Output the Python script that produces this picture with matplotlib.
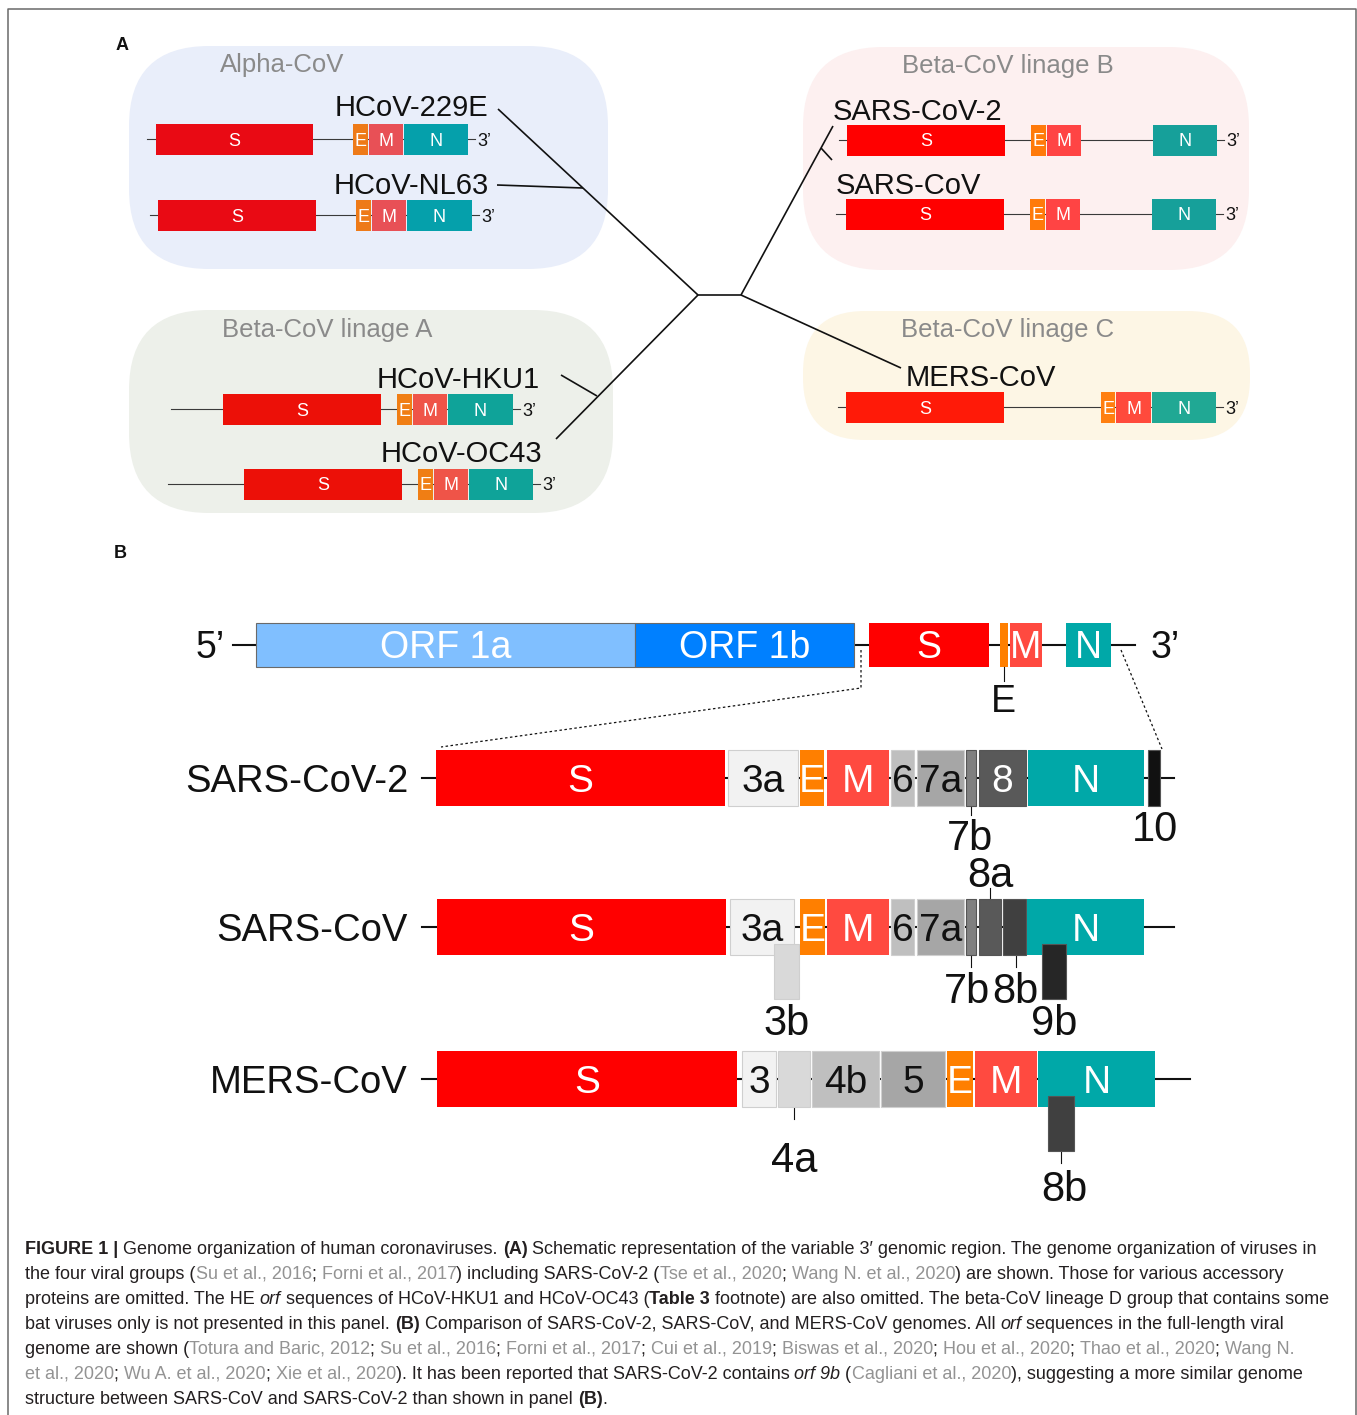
import matplotlib
matplotlib.use('Agg')
import matplotlib.pyplot as plt
from matplotlib.patches import Rectangle, FancyBboxPatch

SANS = ['Liberation Sans', 'DejaVu Sans']
NARROW = ['Liberation Sans Narrow', 'Liberation Sans', 'DejaVu Sans']
plt.rcParams['font.family'] = SANS

# ---------------- Panel A: variable 3' region of the seven human CoVs ----------------
a_viruses = ['HCoV-229E', 'HCoV-NL63', 'HCoV-HKU1', 'HCoV-OC43',
             'SARS-CoV-2', 'SARS-CoV', 'MERS-CoV']
a_genes = ['S', 'E', 'M', 'N']
a_start = [[156, 353, 369, 404],
           [158, 356, 372, 407],
           [223, 397, 413, 448],
           [244, 418, 434, 469],
           [847, 1031, 1047, 1153],
           [846, 1030, 1046, 1152],
           [846, 1101, 1116, 1152]]
a_end = [[313, 368, 403, 468],
         [316, 371, 406, 472],
         [381, 412, 447, 513],
         [402, 433, 468, 533],
         [1005, 1046, 1081, 1217],
         [1004, 1045, 1080, 1216],
         [1004, 1115, 1151, 1216]]
a_leader = [147, 150, 171, 168, 839, 836, 838]   # 5' end of drawn line
a_groups = ['Alpha-CoV', 'Beta-CoV linage A', 'Beta-CoV linage B', 'Beta-CoV linage C']

# ---------------- Panel B: full genome and accessory orfs ----------------
top_genes = ['ORF 1a', 'ORF 1b', 'S', 'E', 'M', 'N']
top_start = [256, 635, 869, 1000, 1010, 1066]
top_end = [635, 854, 989, 1008, 1042, 1111]

b_viruses = ['SARS-CoV-2', 'SARS-CoV', 'MERS-CoV']
sars2_genes = ['S', '3a', 'E', 'M', '6', '7a', '7b', '8', 'N', '10']
sars2_start = [436, 728, 800, 827, 891, 917, 966, 979, 1028, 1148]
sars2_end = [725, 798, 824, 889, 914, 964, 976, 1026, 1144, 1160]
sars_genes = ['S', '3a', '3b', 'E', 'M', '6', '7a', '7b', '8a', '8b', 'N', '9b']
sars_start = [437, 730, 774, 800, 827, 891, 917, 966, 979, 1003, 1027, 1042]
sars_end = [726, 794, 799, 825, 889, 914, 964, 976, 1001, 1026, 1144, 1066]
mers_genes = ['S', '3', '4a', '4b', '5', 'E', 'M', 'N', '8b']
mers_start = [437, 742, 778, 812, 881, 947, 975, 1038, 1048]
mers_end = [737, 776, 810, 879, 945, 973, 1037, 1155, 1074]

# caption: (text, style) n=normal g=reference b=bold i=italic
caption = [
    [('FIGURE 1 | ', 'b'), ('Genome organization of human coronaviruses. ', 'n'), ('(A)', 'b'),
     (' Schematic representation of the variable 3\u2032 genomic region. The genome organization of viruses in', 'n')],
    [('the four viral groups (', 'n'), ('Su et al., 2016', 'g'), ('; ', 'n'), ('Forni et al., 2017', 'g'),
     (') including SARS-CoV-2 (', 'n'), ('Tse et al., 2020', 'g'), ('; ', 'n'), ('Wang N. et al., 2020', 'g'),
     (') are shown. Those for various accessory', 'n')],
    [('proteins are omitted. The HE ', 'n'), ('orf', 'i'), (' sequences of HCoV-HKU1 and HCoV-OC43 (', 'n'),
     ('Table 3', 'b'), (' footnote) are also omitted. The beta-CoV lineage D group that contains some', 'n')],
    [('bat viruses only is not presented in this panel. ', 'n'), ('(B)', 'b'),
     (' Comparison of SARS-CoV-2, SARS-CoV, and MERS-CoV genomes. All ', 'n'), ('orf', 'i'),
     (' sequences in the full-length viral', 'n')],
    [('genome are shown (', 'n'), ('Totura and Baric, 2012', 'g'), ('; ', 'n'), ('Su et al., 2016', 'g'),
     ('; ', 'n'), ('Forni et al., 2017', 'g'), ('; ', 'n'), ('Cui et al., 2019', 'g'), ('; ', 'n'),
     ('Biswas et al., 2020', 'g'), ('; ', 'n'), ('Hou et al., 2020', 'g'), ('; ', 'n'),
     ('Thao et al., 2020', 'g'), ('; ', 'n'), ('Wang N.', 'g')],
    [('et al., 2020', 'g'), ('; ', 'n'), ('Wu A. et al., 2020', 'g'), ('; ', 'n'), ('Xie et al., 2020', 'g'),
     ('). It has been reported that SARS-CoV-2 contains ', 'n'), ('orf 9b', 'i'), (' (', 'n'),
     ('Cagliani et al., 2020', 'g'), ('), suggesting a more similar genome', 'n')],
    [('structure between SARS-CoV and SARS-CoV-2 than shown in panel ', 'n'), ('(B)', 'b'), ('.', 'n')],
]

# ---------------- layout / styling ----------------
W, H = 1357, 1415
fig = plt.figure(figsize=(W / 100, H / 100), dpi=100)
ax = fig.add_axes([0, 0, 1, 1])
ax.set_xlim(0, W)
ax.set_ylim(H, 0)
ax.axis('off')


def ctext(x, y, s, size, ha='center', **kw):
    # put the cap-height centre of the text at y (size in pt, 1 px = 0.72 pt)
    ax.text(x, y + 0.36 * size / 0.72, s, fontsize=size, ha=ha, va='baseline', **kw)


# frame
ax.plot([8, 8, 1356, 1356], [H, 9, 9, H], color='#6a6a6a', lw=1.1, zorder=0)

# panel letters
ctext(122, 44, 'A', 13, fontweight='bold', color='#111')
ctext(120, 551, 'B', 13, fontweight='bold', color='#111')

# group backgrounds
group_box = [(129, 46, 608, 269, '#e9eefa', 80), (129, 310, 613, 513, '#edf0ea', 80),
             (803, 47, 1249, 270, '#fdf0f0', 80), (803, 311, 1250, 440, '#fdf6e5', 62)]
group_title_xy = [(282, 63), (327, 328), (1008, 64), (1008, 328)]
for (x0, y0, x1, y1, c, r), name, (tx, ty) in zip(group_box, a_groups, group_title_xy):
    ax.add_patch(FancyBboxPatch((x0, y0), x1 - x0, y1 - y0,
                                boxstyle='round,pad=0,rounding_size=%d' % r,
                                fc=c, ec='none', zorder=0))
    ctext(tx, ty, name, 18.5, color='#8a8a8a')

# tree
tree = [((498, 109), (698, 295)), ((497, 185), (583, 188)), ((698, 295), (741, 295)),
        ((698, 295), (556, 439)), ((561, 375), (597, 396)), ((741, 295), (833, 126)),
        ((821, 148), (832, 160)), ((741, 295), (901, 368))]
for (x0, y0), (x1, y1) in tree:
    ax.plot([x0, x1], [y0, y1], color='#111', lw=1.2, zorder=1, solid_capstyle='butt')

a_row_y = [139, 215, 409, 484, 140, 214, 407]
a_label = [(488, 106, 'right'), (489, 183, 'right'), (540, 377, 'right'), (542, 452, 'right'),
           (833, 110, 'left'), (836, 183, 'left'), (906, 375, 'left')]
a_cols = [['#e90a14', '#ee7a18', '#e85056', '#05a0ab'],
          ['#e90a14', '#ee7a18', '#e85056', '#05a0ab'],
          ['#ec1008', '#f07e14', '#ef5448', '#0fa399'],
          ['#ec1008', '#f07e14', '#ef5448', '#0fa399'],
          ['#ff0000', '#ff7a0a', '#ff4444', '#16a09a'],
          ['#ff0000', '#ff7a0a', '#ff4444', '#16a09a'],
          ['#ff1a08', '#ff7f10', '#ff4a3c', '#20a894']]
for i, name in enumerate(a_viruses):
    y = a_row_y[i]
    h = 31
    ax.plot([a_leader[i], a_end[i][-1] + 7], [y, y], color='#3a3a3a', lw=0.8, zorder=2)
    for g, s, e, c in zip(a_genes, a_start[i], a_end[i], a_cols[i]):
        ax.add_patch(Rectangle((s, y - h / 2), e - s, h, fc=c, ec='none', zorder=3))
        ctext((s + e) / 2, y, g, 13, color='white', zorder=4)
    ctext(a_end[i][-1] + 9, y, '3\u2019', 13, ha='left', color='#111')
    lx, ly, lha = a_label[i]
    ctext(lx, ly, name, 21, ha=lha, color='#111')

# ---------------- panel B ----------------
fill = {'ORF 1a': '#80bfff', 'ORF 1b': '#0080ff', 'S': '#ff0000', 'E': '#ff7f00', 'M': '#ff4a40',
        'N': '#00a8a8', '3a': '#f2f2f2', '3': '#f2f2f2', '3b': '#d9d9d9', '4a': '#d9d9d9',
        '4b': '#bfbfbf', '6': '#bfbfbf', '5': '#a6a6a6', '7a': '#a6a6a6', '7b': '#808080',
        '8': '#595959', '8a': '#595959', '8b': '#404040', '9b': '#262626', '10': '#111111'}
white_txt = {'ORF 1a', 'ORF 1b', 'S', 'E', 'M', 'N', '8'}

# top genome
ty = 645
ax.plot([233, 1135], [ty, ty], color='#111', lw=1.5, zorder=1)
for g, s, e in zip(top_genes, top_start, top_end):
    ec = '#6a6a6a' if g.startswith('ORF') else 'none'
    ax.add_patch(Rectangle((s, ty - 22), e - s, 44, fc=fill[g], ec=ec, lw=0.8, zorder=2))
    if g != 'E':
        ctext((s + e) / 2, ty, g, 27, color='white', family=NARROW, zorder=3)
ax.plot([1004, 1004], [667, 681], color='#111', lw=0.8)
ctext(1003, 698, 'E', 27, family=NARROW, color='#111')
ctext(210, ty, '5\u2019', 27, color='#111')
ctext(1165, ty, '3\u2019', 27, color='#111')

# zoom-in dashed guides
ax.plot([861, 861, 441], [650, 688, 747], color='#111', lw=0.9, ls=(0, (2, 2)))
ax.plot([1121, 1162], [650, 749], color='#111', lw=0.9, ls=(0, (2, 2)))

b_rows = [(sars2_genes, sars2_start, sars2_end), (sars_genes, sars_start, sars_end),
          (mers_genes, mers_start, mers_end)]
b_row_y = [778, 927, 1079]
b_line_end = [1174, 1174, 1190]
# orfs drawn below the main row (overlapping reading frames)
b_lowered = {(1, '3b'), (1, '9b'), (2, '8b')}
# labels outside the boxes: (x, y, tick from y0 to y1 or None)
b_outside = {(0, '7b'): (970, 835, (806, 815)), (0, '10'): (1155, 826, None),
             (1, '7b'): (967, 988, (955, 967)), (1, '8a'): (990, 872, (899, 888)),
             (1, '8b'): (1015, 988, (955, 967)), (1, '3b'): (787, 1020, None),
             (1, '9b'): (1054, 1020, None),
             (2, '4a'): (794, 1157, (1107, 1119)), (2, '8b'): (1064, 1186, (1151, 1163))}

for r, (name, (genes, starts, ends)) in enumerate(zip(b_viruses, b_rows)):
    y = b_row_y[r]
    ax.plot([422, b_line_end[r]], [y, y], color='#111', lw=1.5, zorder=1)
    ctext(408, y, name, 27.5, ha='right', color='#111')
    for g, s, e in zip(genes, starts, ends):
        if (r, g) in b_lowered:
            y0, h = y + 17, 55
        else:
            y0, h = y - 28, 56
        ec = '#cfcfcf' if g in ('3a', '3', '3b', '4a', '4b', '6', '5', '7a') else '#555555' \
            if g in ('7b', '8', '8a', '8b', '9b', '10') else 'none'
        ax.add_patch(Rectangle((s, y0), e - s, h, fc=fill[g], ec=ec, lw=0.8, zorder=2))
        if (r, g) in b_outside:
            lx, ly, tick = b_outside[(r, g)]
            if tick is not None:
                tx = (s + e) / 2 if g != '8b' or r != 1 else (s + e) / 2 + 1
                ax.plot([tx, tx], tick, color='#111', lw=0.8, zorder=1)
            ctext(lx, ly, g, 30, family=NARROW, color='#111')
        else:
            col = 'white' if g in white_txt else '#111'
            ctext((s + e) / 2, y, g, 28, family=NARROW, color=col, zorder=3)

# ---------------- caption ----------------
cap_style = {'n': dict(color='#231f20'), 'g': dict(color='#939393'),
             'b': dict(color='#231f20', fontweight='bold'),
             'i': dict(color='#231f20', fontstyle='italic')}
renderer = fig.canvas.get_renderer()


def seg_width(s, size, st):
    kw = dict(fontsize=size, family=NARROW, **cap_style[st])
    a = ax.text(0, 0, '|' + s + '|', **kw)
    b = ax.text(0, 0, '||', **kw)
    w = a.get_window_extent(renderer).width - b.get_window_extent(renderer).width
    a.remove()
    b.remove()
    return w


base = 12.5
w3 = sum(seg_width(s, base, st) for s, st in caption[2])
cap_fs = max(9.0, min(16.0, base * 1313 / w3))
for li, line in enumerate(caption):
    x = 25
    yb = 1247 + 25 * li + 0.36 * cap_fs / 0.72
    for s, st in line:
        ax.text(x, yb, s, fontsize=cap_fs, family=NARROW, ha='left', va='baseline', **cap_style[st])
        x += seg_width(s, cap_fs, st)

plt.savefig('out.png', dpi=100)
